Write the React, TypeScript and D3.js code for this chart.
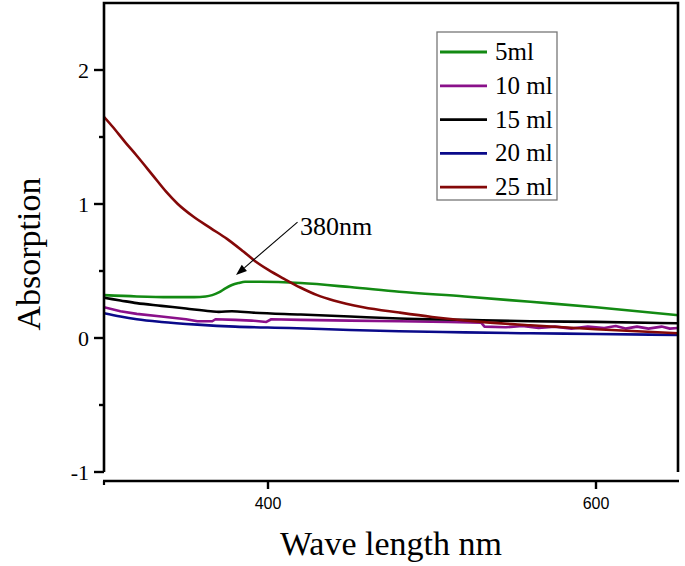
import React from "react";
import * as d3 from "d3";

const seriesNames = ["5ml", "10 ml", "15 ml", "20 ml", "25 ml"];
const seriesColors = ["#138a13", "#8a108a", "#000000", "#0a0a8a", "#840808"];

const green5: [number, number][] = [
  [300, 0.32], [320, 0.31], [340, 0.305], [355, 0.305], [362, 0.31], [366, 0.32], [370, 0.34],
  [374, 0.37], [378, 0.395], [382, 0.41], [386, 0.42], [395, 0.42], [420, 0.41], [450, 0.38],
  [480, 0.345], [520, 0.31], [560, 0.27], [600, 0.23], [650, 0.17],
];
const purple10: [number, number][] = [
  [300, 0.23], [310, 0.2], [320, 0.18], [335, 0.16], [350, 0.14], [357, 0.125], [362, 0.125],
  [366, 0.125], [368, 0.14], [380, 0.135], [390, 0.13], [399, 0.12], [402, 0.14], [420, 0.135],
  [450, 0.13], [480, 0.125], [510, 0.12], [530, 0.115], [532, 0.085], [545, 0.08], [555, 0.09],
  [565, 0.075], [575, 0.085], [585, 0.07], [595, 0.085], [605, 0.075], [612, 0.09], [618, 0.07],
  [625, 0.085], [632, 0.07], [640, 0.085], [645, 0.07], [650, 0.075],
];
const black15: [number, number][] = [
  [300, 0.3], [310, 0.28], [320, 0.26], [335, 0.24], [350, 0.22], [365, 0.2], [370, 0.195],
  [378, 0.2], [390, 0.19], [420, 0.175], [450, 0.16], [480, 0.145], [520, 0.135], [560, 0.125],
  [600, 0.12], [650, 0.11],
];
const blue20: [number, number][] = [
  [300, 0.185], [310, 0.16], [320, 0.14], [335, 0.12], [357, 0.1], [380, 0.085], [413, 0.075],
  [450, 0.06], [480, 0.05], [520, 0.042], [560, 0.035], [600, 0.03], [650, 0.022],
];
const red25: [number, number][] = [
  [300, 1.65], [305, 1.58], [313, 1.46], [320, 1.36], [330, 1.21], [338, 1.09], [345, 1.0],
  [354, 0.91], [365, 0.82], [375, 0.74], [385, 0.645], [392, 0.575], [400, 0.51], [410, 0.44],
  [420, 0.375], [430, 0.32], [440, 0.28], [458, 0.23], [480, 0.19], [500, 0.157], [530, 0.12],
  [560, 0.095], [600, 0.065], [650, 0.035],
];
const seriesData = [green5, purple10, black15, blue20, red25];
const seriesSmooth = [true, false, true, true, true];

const xTicks = [400, 600];
const yMajorTicks = [-1, 0, 1, 2];
const yMinorTicks = [-0.5, 0.5, 1.5];

const annotationText = "380nm";
const arrowFrom: [number, number] = [418, 0.865];
const arrowTo: [number, number] = [380.5, 0.47];
const annotationPos: [number, number] = [419.5, 0.77];

const serif = "'Liberation Serif', 'Times New Roman', serif";
const sans = "'Liberation Sans', Arial, sans-serif";

export default function App() {
  const W = 685, H = 566;
  const x = d3.scaleLinear().domain([300, 650]).range([104, 678]);
  const y = d3.scaleLinear().domain([-1, 2.5]).range([472, 3]);
  const left = x(300), right = x(650), top = y(2.5), bottom = y(-1);
  const xAxisY = bottom + 9;
  const smoothLine = d3.line<[number, number]>().x(d => x(d[0])).y(d => y(d[1])).curve(d3.curveMonotoneX);
  const rawLine = d3.line<[number, number]>().x(d => x(d[0])).y(d => y(d[1]));

  const ax = x(arrowFrom[0]), ay = y(arrowFrom[1]);
  const tx = x(arrowTo[0]), ty = y(arrowTo[1]);
  const ang = Math.atan2(ty - ay, tx - ax);
  const hl = 11, hw = 4;
  const bx = tx - hl * Math.cos(ang), by = ty - hl * Math.sin(ang);
  const head = `M${tx},${ty} L${bx + hw * Math.sin(ang)},${by - hw * Math.cos(ang)} L${bx - hw * Math.sin(ang)},${by + hw * Math.cos(ang)} Z`;

  const legX = 437, legY = 32, legW = 120, legH = 168;
  const rowGap = 33.8;

  return (
    <svg width={W} height={H} style={{ position: "absolute", left: 0, top: 0, background: "#fff" }}>
      <defs>
        <clipPath id="plotclip">
          <rect x={left} y={top} width={right - left} height={bottom - top} />
        </clipPath>
      </defs>
      <rect x={0} y={0} width={W} height={H} fill="#fff" />
      <g clipPath="url(#plotclip)">
        {seriesData.map((s, i) => (
          <path key={i} d={(seriesSmooth[i] ? smoothLine(s) : rawLine(s)) || ""} fill="none" stroke={seriesColors[i]} strokeWidth={2.6} strokeLinejoin="round" />
        ))}
      </g>
      <path d={`M${left},${bottom} L${left},${top} L${right},${top} L${right},${bottom}`} fill="none" stroke="#000" strokeWidth={2.6} />
      {yMajorTicks.map(t => (
        <g key={t}>
          <line x1={left - 10} x2={left} y1={y(t)} y2={y(t)} stroke="#000" strokeWidth={2.4} />
          <text x={left - 15} y={y(t)} dy="0.35em" textAnchor="end" fontFamily={serif} fontSize={22}>{t}</text>
        </g>
      ))}
      {yMinorTicks.map(t => (
        <line key={t} x1={left - 5} x2={left} y1={y(t)} y2={y(t)} stroke="#000" strokeWidth={2.4} />
      ))}
      <line x1={left - 1} x2={right + 1} y1={xAxisY} y2={xAxisY} stroke="#000" strokeWidth={2.6} />
      <line x1={left} x2={left} y1={xAxisY} y2={xAxisY + 4} stroke="#000" strokeWidth={2.2} />
      {xTicks.map(t => (
        <g key={t}>
          <line x1={x(t)} x2={x(t)} y1={xAxisY} y2={xAxisY + 8} stroke="#000" strokeWidth={2.4} />
          <text x={x(t)} y={xAxisY + 28} textAnchor="middle" fontFamily={sans} fontSize={16}>{t}</text>
        </g>
      ))}
      <text x={(left + right) / 2} y={555} textAnchor="middle" fontFamily={serif} fontSize={34}>Wave length nm</text>
      <text transform={`translate(40,254) rotate(-90)`} textAnchor="middle" fontFamily={serif} fontSize={34}>Absorption</text>
      <line x1={ax} y1={ay} x2={bx} y2={by} stroke="#000" strokeWidth={1.1} />
      <path d={head} fill="#000" />
      <text x={x(annotationPos[0])} y={y(annotationPos[1])} fontFamily={serif} fontSize={26}>{annotationText}</text>
      <rect x={legX} y={legY} width={legW} height={legH} fill="#fff" stroke="#777" strokeWidth={1.3} />
      {seriesNames.map((n, i) => {
        const cy = 52 + i * rowGap;
        return (
          <g key={n}>
            <line x1={440} x2={487} y1={cy} y2={cy} stroke={seriesColors[i]} strokeWidth={2.8} />
            <text x={495} y={cy + 8} fontFamily={serif} fontSize={25}>{n}</text>
          </g>
        );
      })}
    </svg>
  );
}
